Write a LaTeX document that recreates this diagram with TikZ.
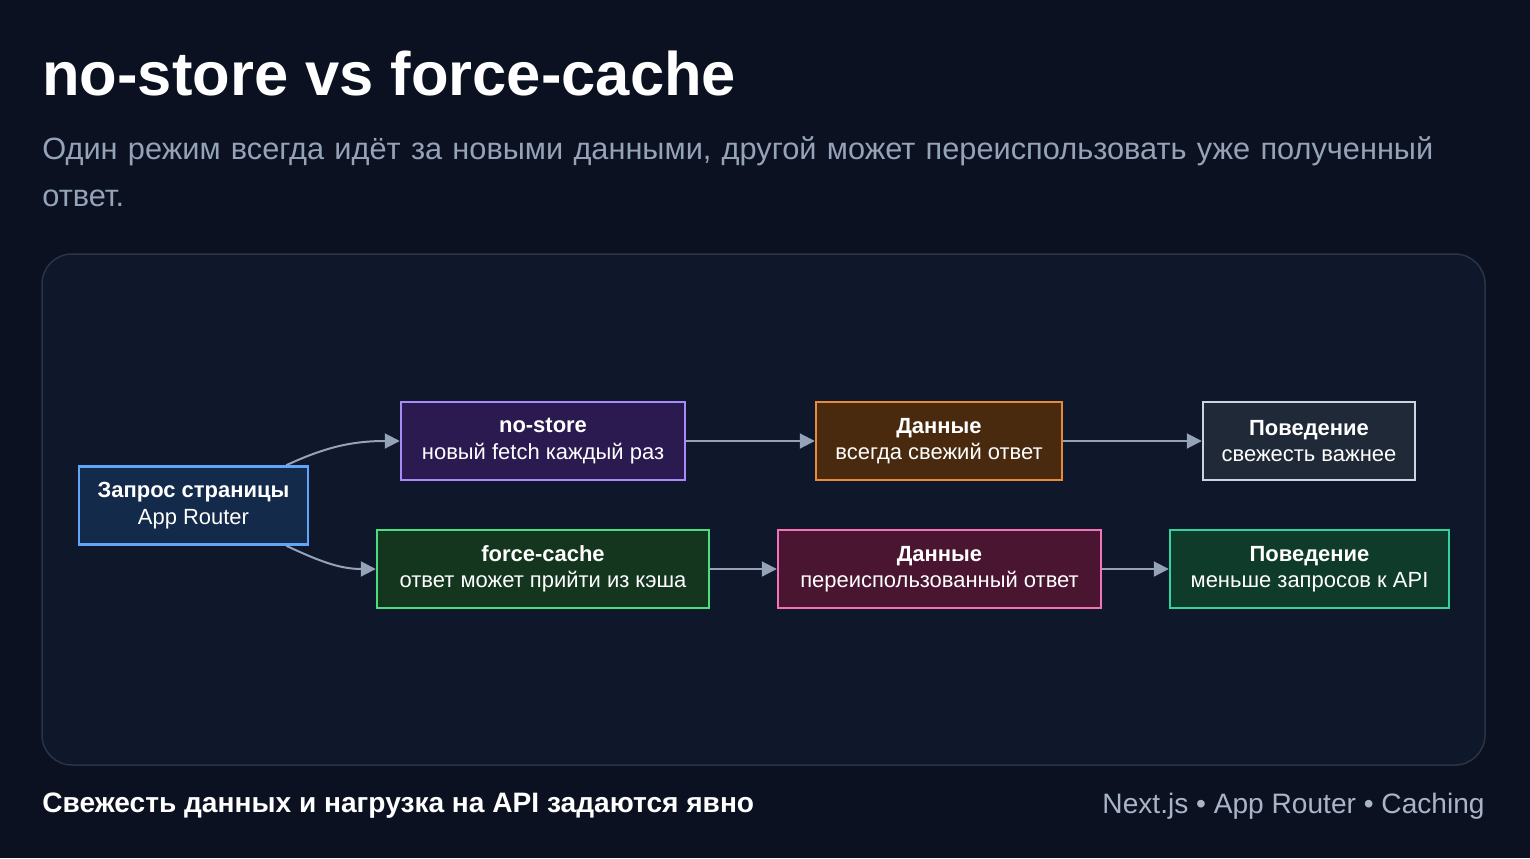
\documentclass[tikz,border=0pt]{standalone}
\usepackage{fontspec}
\setmainfont{Liberation Sans}
\usetikzlibrary{positioning,arrows.meta}
\definecolor{bgcol}{HTML}{0B1120}
\definecolor{panelcol}{HTML}{0F172A}
\definecolor{panelline}{HTML}{2A3445}
\definecolor{linkcol}{HTML}{94A3B8}
\definecolor{subcol}{HTML}{94A3B8}
\definecolor{reqline}{HTML}{60A5FA}\definecolor{reqfill}{HTML}{132A4A}
\definecolor{nsline}{HTML}{A78BFA}\definecolor{nsfill}{HTML}{2A1A50}
\definecolor{frline}{HTML}{E88A3A}\definecolor{frfill}{HTML}{4A2A0F}
\definecolor{fbline}{HTML}{CBD5E1}\definecolor{fbfill}{HTML}{1F2937}
\definecolor{fcline}{HTML}{4ADE80}\definecolor{fcfill}{HTML}{14361F}
\definecolor{ruline}{HTML}{F472B6}\definecolor{rufill}{HTML}{4A1530}
\definecolor{cbline}{HTML}{34D399}\definecolor{cbfill}{HTML}{0F3B2A}
\tikzset{
  box/.style={draw, line width=0.05cm, minimum height=1.56cm, inner sep=0pt,
    align=center, text=white, font=\fontsize{12.5}{15}\selectfont},
  link/.style={draw=linkcol, line width=0.04cm, -{Triangle[length=0.3cm,width=0.3cm]}},
}
\begin{document}
\begin{tikzpicture}[x=0.02cm,y=-0.02cm]
  % background and panel
  \fill [bgcol] (0,0) rectangle (1530,858);
  \useasboundingbox (0,0) rectangle (1530,858);
  \draw [panelline, fill=panelcol, line width=0.03cm, rounded corners=0.6cm] (42,254) rectangle (1485,765);

  % title texts
  \node (title) [anchor=west, inner xsep=0pt, text=white, font=\bfseries\fontsize{35}{40}\selectfont] at (42,74) {no-store vs force-cache};
  \node (sub) [anchor=north west, inner xsep=0pt, text=subcol, align=left, text width=28.9cm,
    font=\fontsize{17.5}{27}\selectfont] at (42,130) {Один режим всегда идёт за новыми данными, другой может переиспользовать уже полученный ответ.};

  % nodes
  \node (req) [box, draw=reqline, fill=reqfill, minimum width=4.58cm] at (193.5,505.5) {\textbf{Запрос страницы}\\App Router};
  \node (nostore) [box, draw=nsline, fill=nsfill, minimum width=5.68cm] at (543,441) {\textbf{no-store}\\новый fetch каждый раз};
  \node (fresh) [box, draw=frline, fill=frfill, minimum width=4.92cm] at (939,441) {\textbf{Данные}\\всегда свежий ответ};
  \node (fastbeh) [box, draw=fbline, fill=fbfill, minimum width=4.24cm] at (1309,441) {\textbf{Поведение}\\свежесть важнее};
  \node (cache) [box, draw=fcline, fill=fcfill, minimum width=6.64cm] at (543,569) {\textbf{force-cache}\\ответ может прийти из кэша};
  \node (reused) [box, draw=ruline, fill=rufill, minimum width=6.46cm] at (939.5,569) {\textbf{Данные}\\переиспользованный ответ};
  \node (cachebeh) [box, draw=cbline, fill=cbfill, minimum width=5.58cm] at (1309.5,569) {\textbf{Поведение}\\меньше запросов к API};

  % links
  \draw [link] ([xshift=-0.46cm]req.north east) to[out=25,in=180] (nostore.west);
  \draw [link] ([xshift=-0.46cm]req.south east) to[out=-25,in=180] (cache.west);
  \draw [link] (nostore) -- (fresh);
  \draw [link] (fresh) -- (fastbeh);
  \draw [link] (cache) -- (reused);
  \draw [link] (reused) -- (cachebeh);

  % footer
  \node (foot) [anchor=west, inner xsep=0pt, text=white, font=\bfseries\fontsize{16}{19}\selectfont] at (42,806) {Свежесть данных и нагрузка на API задаются явно};
  \node (tags) [anchor=east, inner xsep=0pt, text=subcol!80!white, font=\fontsize{16}{19}\selectfont] at (1485,806) {Next.js • App Router • Caching};
\end{tikzpicture}
\end{document}
